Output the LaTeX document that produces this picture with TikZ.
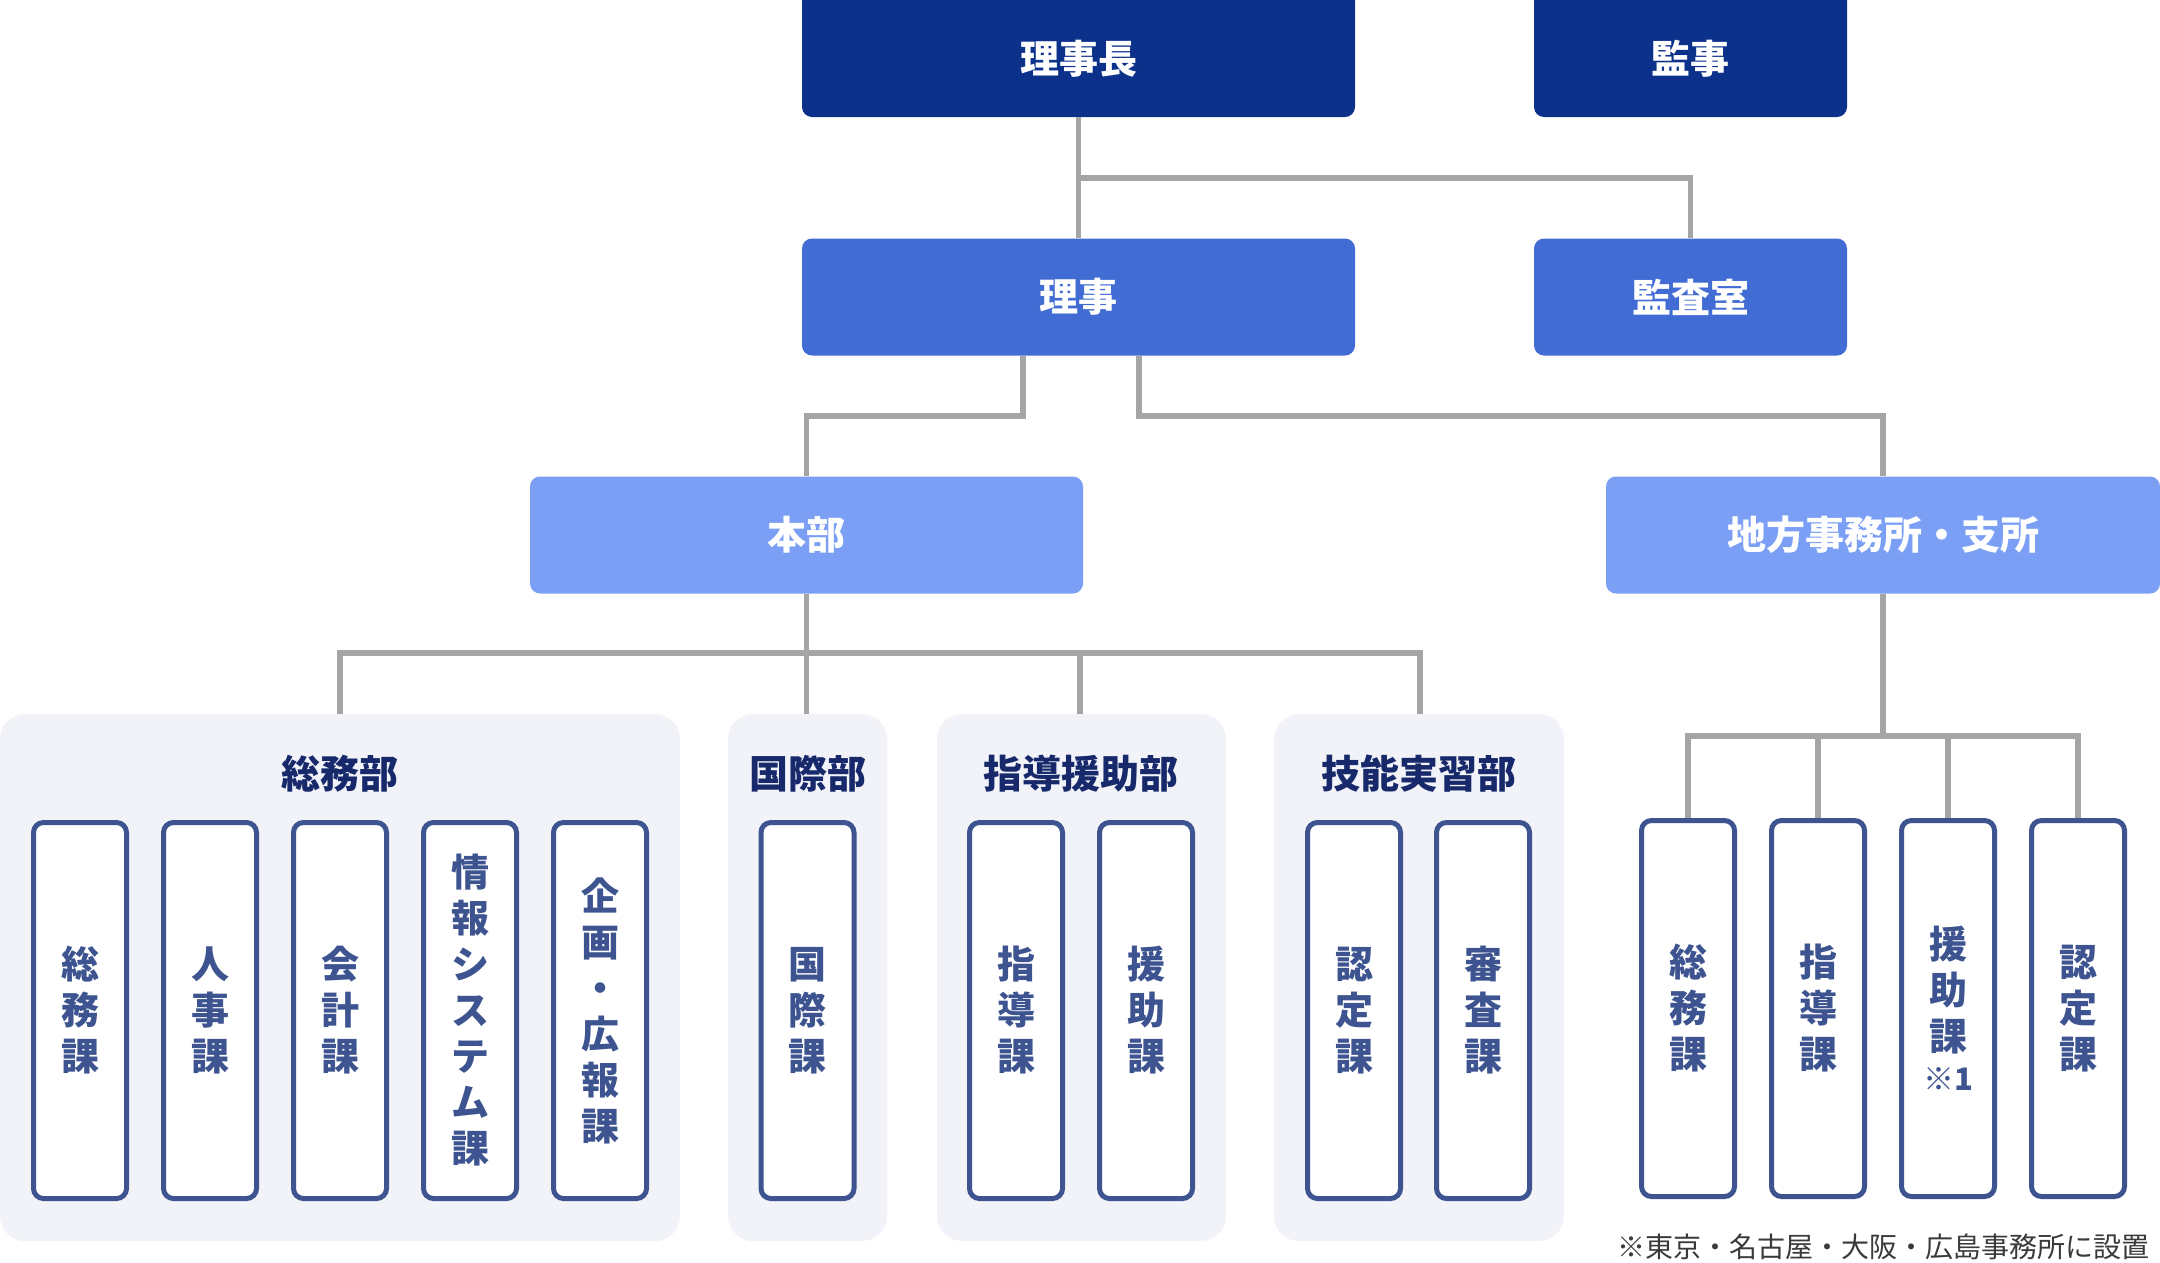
\documentclass[tikz,border=0pt]{standalone}
\usepackage{fontspec}
\setmainfont{Noto Sans CJK JP}
\definecolor{cDark}{HTML}{0C318A}
\definecolor{cMid}{HTML}{416CD4}
\definecolor{cLight}{HTML}{7A9FF5}
\definecolor{cGroup}{HTML}{F1F3F9}
\definecolor{cSub}{HTML}{3D5490}
\definecolor{cLabel}{HTML}{17296A}
\definecolor{cLine}{HTML}{A5A5A5}
\definecolor{cNote}{HTML}{3A3A3A}
\begin{document}
\begin{tikzpicture}[x=1pt,y=-1pt,
  conn/.style={draw=cLine,line width=5.5pt},
  headbox/.style={rounded corners=10pt,text=white,inner sep=0pt,
    font=\fontsize{39}{46}\selectfont\bfseries,minimum height=117pt},
  lvA/.style={headbox,fill=cDark},
  lvB/.style={headbox,fill=cMid},
  lvC/.style={headbox,fill=cLight},
  headtext/.style={text=white,inner sep=0pt,font=\fontsize{39}{46}\selectfont\bfseries},
  grp/.style={fill=cGroup,rounded corners=25pt},
  grplabel/.style={text=cLabel,inner sep=0pt,font=\fontsize{39}{46}\selectfont\bfseries},
  subbox/.style={draw=cSub,fill=white,line width=5pt,rounded corners=10pt,
    minimum width=93pt,minimum height=376pt,inner sep=0pt,align=center,
    text=cSub,font=\fontsize{38}{46}\selectfont\bfseries},
  note/.style={text=cNote,inner sep=0pt,font=\fontsize{28}{32}\selectfont}
]
\useasboundingbox[fill=white] (0,0) rectangle (2160,1262);

% group backgrounds
\fill[grp] (0,714) rectangle (680,1241);
\fill[grp] (728,714) rectangle (887,1241);
\fill[grp] (937,714) rectangle (1226,1241);
\fill[grp] (1274,714) rectangle (1564,1241);

% top levels (top edge runs off the page)
\node[lvA,minimum width=553pt,minimum height=127pt] (chair) at (1078.5,53.5) {};
\node[headtext] (chairT) at (1078.5,58.5) {理事長};
\node[lvA,minimum width=313pt,minimum height=127pt] (audit) at (1690.5,53.5) {};
\node[headtext] (auditT) at (1690.5,58.5) {監事};
\node[lvB,minimum width=553pt] (dir) at (1078.5,297) {理事};
\node[lvB,minimum width=313pt] (office) at (1690.5,297) {監査室};
\node[lvC,minimum width=553pt] (hq) at (806.5,535) {本部};
\node[lvC,minimum width=554pt] (local) at (1883,535) {地方事務所・支所};

% group labels
\node[grplabel] (gA) at (340,774) {総務部};
\node[grplabel] (gB) at (807.5,774) {国際部};
\node[grplabel] (gC) at (1081,774) {指導援助部};
\node[grplabel] (gD) at (1419,774) {技能実習部};
\coordinate (gAtop) at (340,714);
\coordinate (gBtop) at (806.5,714);
\coordinate (gCtop) at (1080,714);
\coordinate (gDtop) at (1420,714);
\coordinate (busH) at (806.5,653);
\coordinate (busL) at (1883,736);
\coordinate (busT) at (1078.5,178);

% HQ sections
\node[subbox] (s1) at (80,1010.5) {総\\務\\課};
\node[subbox] (s2) at (210,1010.5) {人\\事\\課};
\node[subbox] (s3) at (340,1010.5) {会\\計\\課};
\node[subbox] (s4) at (470,1010.5) {情\\報\\シ\\ス\\テ\\ム\\課};
\node[subbox] (s5) at (600,1010.5) {企\\画\\・\\広\\報\\課};
\node[subbox] (s6) at (807.5,1010.5) {国\\際\\課};
\node[subbox] (s7) at (1016,1010.5) {指\\導\\課};
\node[subbox] (s8) at (1146,1010.5) {援\\助\\課};
\node[subbox] (s9) at (1354,1010.5) {認\\定\\課};
\node[subbox] (s10) at (1483,1010.5) {審\\査\\課};

% local sections
\node[subbox] (l1) at (1688,1008.5) {総\\務\\課};
\node[subbox] (l2) at (1818,1008.5) {指\\導\\課};
\node[subbox] (l3) at (1948,1008.5) {援\\助\\課\\[-6pt]{\fontsize{31}{34}\selectfont ※1}};
\node[subbox] (l4) at (2078,1008.5) {認\\定\\課};

% connectors
\draw[conn] (chair.south) -- (dir.north);
\draw[conn] (busT) -| (office.north);
\draw[conn] ([xshift=-55.5pt]dir.south) |- (806.5,416) -- (hq.north);
\draw[conn] ([xshift=60.5pt]dir.south) |- (1883,416) -- (local.north);

\draw[conn] (hq.south) -- (gBtop);
\draw[conn] (gAtop) |- (busH) -| (gDtop);
\draw[conn] (gCtop |- busH) -- (gCtop);

\draw[conn] (local.south) -- (busL);
\draw[conn] (l1.north) |- (busL) -| (l4.north);
\draw[conn] (l2.north |- busL) -- (l2.north);
\draw[conn] (l3.north |- busL) -- (l3.north);

% footnote
\node[note,anchor=east] (fn) at (2150,1247) {※東京・名古屋・大阪・広島事務所に設置};
\end{tikzpicture}
\end{document}
